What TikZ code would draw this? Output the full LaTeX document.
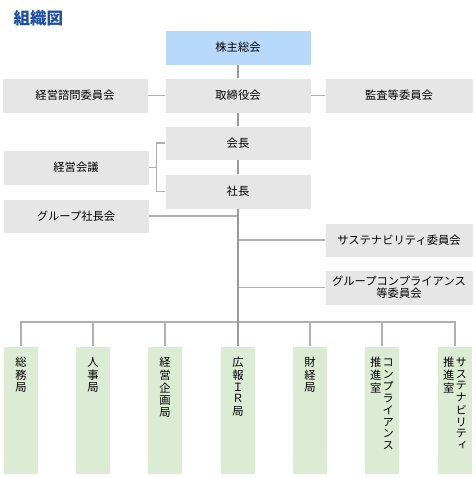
\documentclass[tikz,border=0pt]{standalone}
\usepackage{fontspec}
\setmainfont{Noto Sans CJK JP}
\newfontfamily\tatefont{Noto Sans CJK JP}[RawFeature=+vert]
\usetikzlibrary{positioning}

\definecolor{boxgray}{HTML}{E6E6E6}
\definecolor{boxblue}{HTML}{B9D9FB}
\definecolor{boxgreen}{HTML}{DCEBD3}
\definecolor{linegray}{HTML}{B0B0B0}
\definecolor{trunkgray}{HTML}{999999}
\definecolor{titleblue}{HTML}{1E4FA3}

% vertical (tate) text column
\newcommand{\tate}[1]{\begin{tabular}[t]{@{}c@{}}#1\end{tabular}}

\begin{document}
\begin{tikzpicture}[
        x = 1pt, y = -1pt,
        every node/.style = {font=\fontsize{11.3}{13}\selectfont},
        org/.style = {
            fill = boxgray,
            draw = white,
            minimum width = 146pt,
            minimum height = 35pt,
            inner sep = 0pt,
            align = center
        },
        top/.style = {org, fill = boxblue},
        dept/.style = {
            fill = boxgreen,
            draw = white,
            minimum width = 35pt,
            minimum height = 128pt,
            inner sep = 0pt
        },
        link/.style = {draw = linegray, line width = 1.3pt},
        trunk/.style = {draw = trunkgray, line width = 1.6pt}
    ]

    \useasboundingbox (0,0) rectangle (475,477);

    \node[anchor=west, text=titleblue, font=\fontsize{16.5}{18}\selectfont\bfseries] (title) at (10,18) {組織図};

    % governance
    \node[top] (soukai) at (238,47.5) {株主総会};
    \node[org] (torishimari) at (238,95.5) {取締役会};
    \node[org] (shimon) at (75,95.5) {経営諮問委員会};
    \node[org, minimum width=148pt] (kansa) at (399,95.5) {監査等委員会};

    % executives
    \node[org, minimum height=34pt] (kaichou) at (238,143) {会長};
    \node[org] (shachou) at (238,191.5) {社長};
    \node[org] (keiei) at (76,167.5) {経営会議};
    \node[org, minimum height=34pt] (gshachou) at (76,216) {グループ社長会};
    \node[org, minimum width=148pt, minimum height=34pt] (sustain) at (399,240) {サステナビリティ委員会};
    \node[org, minimum width=148pt] (gcomp) at (399,287.5) {グループコンプライアンス\\[-1pt]等委員会};

    \coordinate (bar) at (238,322);

    % departments
    \foreach \i/\xx/\txt in {
        1/21/{\tate{総\\務\\局}},
        2/93/{\tate{人\\事\\局}},
        3/165/{\tate{経\\営\\企\\画\\局}},
        4/238/{\tate{広\\報\\Ｉ\\Ｒ\\局}},
        5/310/{\tate{財\\経\\局}},
        6/382/{\tate{推\\進\\室}\hspace{1pt}\tate{コ\\ン\\プ\\ラ\\イ\\ア\\ン\\ス}},
        7/455/{\tate{推\\進\\室}\hspace{1pt}\tate{サ\\ス\\テ\\ナ\\ビ\\リ\\テ\\ィ}}}
    {
        \node[dept, label={[anchor=north, yshift=-11pt, inner sep=0pt,
            font=\fontsize{11.3}{11.5}\selectfont\tatefont]north:\txt}] (b\i) at (\xx,410) {};
    }

    % connectors
    \draw[link] (shimon) -- (torishimari);
    \draw[link] (torishimari) -- (kansa);
    \draw[trunk] (soukai) -- (torishimari);
    \draw[trunk] (torishimari) -- (kaichou);
    \draw[trunk] (kaichou) -- (shachou);
    \draw[link] (kaichou.west) -- ++(-8,0) |- (shachou.west);
    \draw[link] (keiei.east) -- ++(8,0);
    \draw[link] (gshachou.east) -- (gshachou.east -| shachou.south);
    \draw[link] (sustain.west) -- (sustain.west -| shachou.south);
    \draw[link] (gcomp.west) -- (gcomp.west -| shachou.south);
    \draw[link] (b1.north) |- (bar) -| (b7.north);
    \foreach \i in {2,3,5,6} {
        \draw[link] (b\i.north) -- (b\i.north |- bar);
    }
    \draw[trunk] (shachou.south) -- (b4.north);

\end{tikzpicture}
\end{document}
